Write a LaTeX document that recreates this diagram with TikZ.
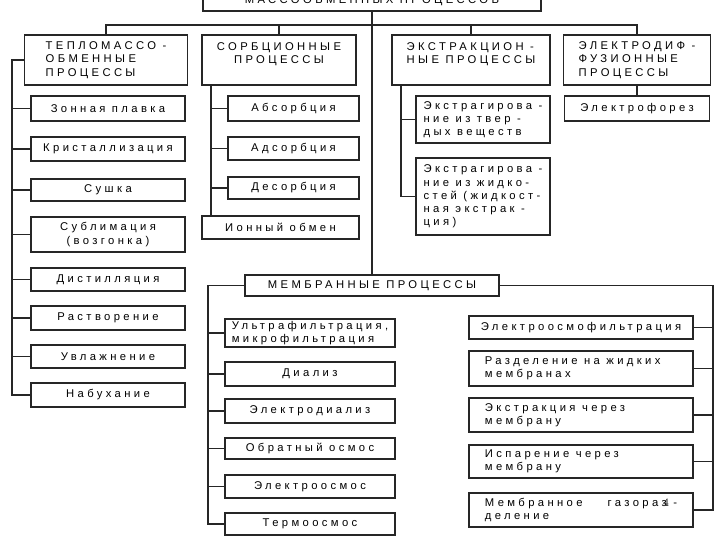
\documentclass[tikz,border=0pt]{standalone}
\usepackage{fontspec}
\usetikzlibrary{calc}
\newfontfamily\procfont[LetterSpace=30]{Liberation Sans}
\newcommand\rline[1]{\makebox[4.8cm][l]{#1}}
\tikzset{
  box/.style 2 args={draw=black!85, line width=1.1pt, fill=white, inner sep=0pt,
    minimum width=#1*0.025cm, minimum height=#2*0.025cm,
    font=\procfont\fontsize{8}{9.4}\selectfont, align=center},
  lbox/.style 2 args={box={#1}{#2}, align=left},
  rbox/.style={box={224}{#1}, align=left},
  twoline/.style={text depth=0.33cm},
  link/.style={draw=black!85, line width=0.8pt}
}

\begin{document}
\begin{tikzpicture}[x=0.025cm, y=-0.025cm]
    \useasboundingbox (0,0) rectangle (720,540);
    \clip (0,0) rectangle (720,540);
    % top and first row
    \node[box={338}{0}, anchor=south, text height=0.8cm, inner ysep=0.14cm] (top) at (372,12) {МАССООБМЕННЫХ ПРОЦЕССОВ};
    \node[lbox={163}{50}] (teplo) at (106,60) {ТЕПЛОМАССО -\\ОБМЕННЫЕ\\ПРОЦЕССЫ};
    \node[box={154}{50}, twoline] (sorb) at (279,60) {СОРБЦИОННЫЕ\\ПРОЦЕССЫ};
    \node[lbox={158}{50}, twoline] (ekstr) at (471,60) {ЭКСТРАКЦИОН -\\НЫЕ ПРОЦЕССЫ};
    \node[lbox={147}{50}] (elektr) at (637,60) {ЭЛЕКТРОДИФ -\\ФУЗИОННЫЕ\\ПРОЦЕССЫ};
    % teplo branch
    \node[box={154}{25}] (zon) at (108,108.5) {Зонная плавка};
    \node[box={154}{24}] (krist) at (108,149) {Кристаллизация};
    \node[box={154}{22}] (sush) at (108,190) {Сушка};
    \node[box={154}{35}] (subl) at (108,234.5) {Сублимация\\(возгонка)};
    \node[box={154}{23}] (dist) at (108,279.5) {Дистилляция};
    \node[box={154}{24}] (rastv) at (108,318) {Растворение};
    \node[box={154}{23}] (uvl) at (108,356.5) {Увлажнение};
    \node[box={154}{24}] (nab) at (108,395) {Набухание};
    % sorb branch
    \node[box={131}{25}] (abs) at (293.5,108.5) {Абсорбция};
    \node[box={131}{23}] (ads) at (293.5,148.5) {Адсорбция};
    \node[box={131}{22}] (des) at (293.5,188) {Десорбция};
    \node[box={157}{23}] (ion) at (280.5,227.5) {Ионный обмен};
    % ekstr branch
    \node[lbox={134}{47}] (tv) at (483,119.5) {Экстрагирова -\\ние из твер -\\дых веществ};
    \node[lbox={134}{77}] (zh) at (483,196.5) {Экстрагирова -\\ние из жидко-\\стей (жидкост-\\ная экстрак -\\ция)};
    \node[box={145}{25}] (elforez) at (637,108.5) {Электрофорез};
    % membrane
    \node[box={254}{21}] (memb) at (372,285.5) {МЕМБРАННЫЕ ПРОЦЕССЫ};
    \node[lbox={170}{28}] (ultra) at (310,333) {Ультрафильтрация,\\микрофильтрация};
    \node[box={170}{24}] (dial) at (310,374) {Диализ};
    \node[box={170}{24}] (eldial) at (310,411) {Электродиализ};
    \node[box={170}{21}] (obr) at (310,448.5) {Обратный осмос};
    \node[box={170}{23}] (elosm) at (310,486.5) {Электроосмос};
    \node[box={170}{22}] (term) at (310,524) {Термоосмос};
    \node[box={224}{23}] (eof) at (581,327.5) {Электроосмофильтрация};
    \node[rbox={35}] (razd) at (581,368.5) {\rline{Разделение на жидких}\\мембранах};
    \node[rbox={34}] (ekm) at (581,415) {\rline{Экстракция через}\\мембрану};
    \node[rbox={33}] (isp) at (581,461.5) {\rline{Испарение через}\\мембрану};
    \node[rbox={34}] (gaz) at (581,510) {\rline{Мембранное\hfill газораз -}\\деление};
    \node[font=\fontsize{8}{8}\selectfont] (pnum) at (666,503) {4};
    % connectors
    \coordinate (bus) at (372,25);
    \coordinate (tt) at (12,0);
    \coordinate (st) at (211,0);
    \coordinate (et) at (401,0);
    \coordinate (ml) at (208,0);
    \coordinate (mr) at (713,0);
    \draw[link] (top.south) -- (memb.north);
    \draw[link] (teplo.north) |- (bus) -| (elektr.north);
    \draw[link] (sorb.north) -- (sorb.north |- bus);
    \draw[link] (ekstr.north) -- (ekstr.north |- bus);
    \draw[link] (teplo.west) -| (tt |- nab.west) -- (nab.west);
    \draw[link] (zon.west) -- (zon.west -| tt);
    \draw[link] (krist.west) -- (krist.west -| tt);
    \draw[link] (sush.west) -- (sush.west -| tt);
    \draw[link] (subl.west) -- (subl.west -| tt);
    \draw[link] (dist.west) -- (dist.west -| tt);
    \draw[link] (rastv.west) -- (rastv.west -| tt);
    \draw[link] (uvl.west) -- (uvl.west -| tt);
    \draw[link] (sorb.south -| st) -- (ion.north -| st);
    \draw[link] (abs.west) -- (abs.west -| st);
    \draw[link] (ads.west) -- (ads.west -| st);
    \draw[link] (des.west) -- (des.west -| st);
    \draw[link] (ekstr.south -| et) |- (zh.west);
    \draw[link] (tv.west) -- (tv.west -| et);
    \draw[link] (elektr.south) -- (elforez.north);
    \draw[link] (memb.west) -| (ml |- term.west) -- (term.west);
    \draw[link] (ultra.west) -- (ultra.west -| ml);
    \draw[link] (dial.west) -- (dial.west -| ml);
    \draw[link] (eldial.west) -- (eldial.west -| ml);
    \draw[link] (obr.west) -- (obr.west -| ml);
    \draw[link] (elosm.west) -- (elosm.west -| ml);
    \draw[link] (memb.east) -| (mr |- gaz.east) -- (gaz.east);
    \draw[link] (eof.east) -- (eof.east -| mr);
    \draw[link] (razd.east) -- (razd.east -| mr);
    \draw[link] (ekm.east) -- (ekm.east -| mr);
    \draw[link] (isp.east) -- (isp.east -| mr);
\end{tikzpicture}
\end{document}
